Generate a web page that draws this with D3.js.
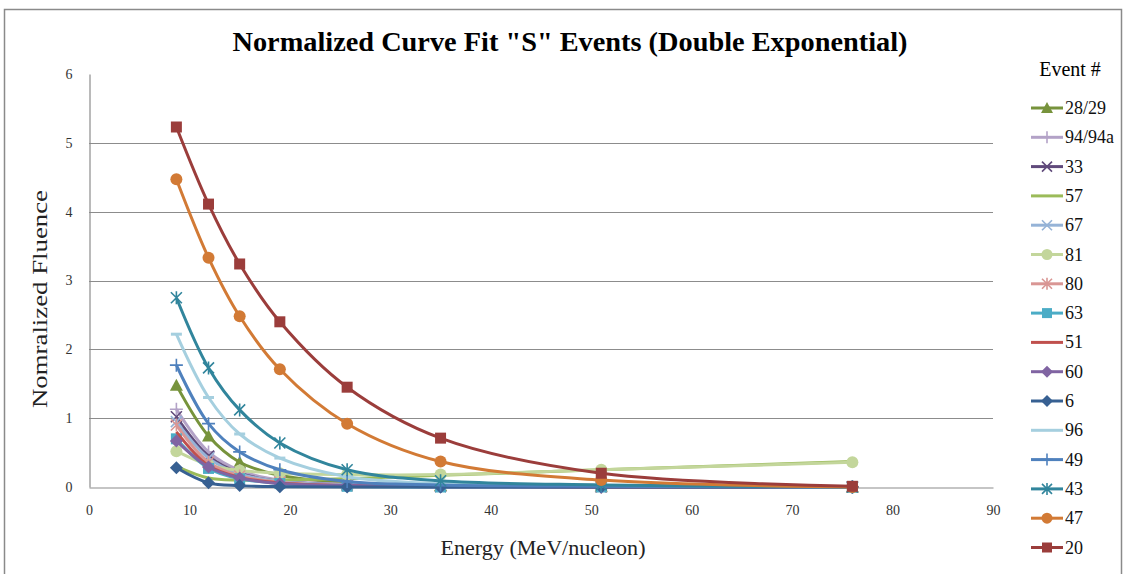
<!DOCTYPE html>
<html>
<head>
<meta charset="utf-8">
<style>
  body { margin: 0; background: #fff; }
  svg text { font-family: "Liberation Serif", "Times New Roman", serif; }
</style>
<title>Normalized Curve Fit</title>
</head>
<body>
<script src="https://cdn.jsdelivr.net/npm/d3@7"></script>
<script>
// energies (MeV/nucleon) shared by every event
var energies = [8.7, 11.9, 15, 19, 25.7, 35, 51, 76];

var events = ["28/29", "94/94a", "33", "57", "67", "81", "80", "63",
              "51", "60", "6", "96", "49", "43", "47", "20"];

var fluence = {
  "28/29":  [1.48, 0.74, 0.36, 0.17, 0.06, 0.02, 0.01, 0.0],
  "94/94a": [1.13, 0.51, 0.24, 0.10, 0.04, 0.01, 0.0, 0.0],
  "33":     [1.02, 0.45, 0.20, 0.08, 0.03, 0.01, 0.0, 0.0],
  "57":     [0.30, 0.13, 0.10, 0.10, 0.12, 0.17, 0.25, 0.37],
  "67":     [0.95, 0.42, 0.19, 0.08, 0.03, 0.01, 0.0, 0.0],
  "81":     [0.52, 0.32, 0.24, 0.20, 0.18, 0.18, 0.25, 0.36],
  "80":     [0.90, 0.36, 0.16, 0.07, 0.02, 0.01, 0.0, 0.0],
  "63":     [0.70, 0.27, 0.12, 0.05, 0.01, 0.0, 0.0, 0.0],
  "51":     [0.80, 0.31, 0.14, 0.06, 0.02, 0.01, 0.0, 0.0],
  "60":     [0.67, 0.29, 0.13, 0.05, 0.02, 0.0, 0.0, 0.0],
  "6":      [0.28, 0.06, 0.02, 0.005, 0.0, 0.0, 0.0, 0.0],
  "96":     [2.22, 1.30, 0.77, 0.42, 0.15, 0.05, 0.02, 0.0],
  "49":     [1.77, 0.92, 0.51, 0.25, 0.08, 0.03, 0.01, 0.0],
  "43":     [2.75, 1.73, 1.12, 0.64, 0.25, 0.09, 0.03, 0.0],
  "47":     [4.47, 3.33, 2.48, 1.71, 0.92, 0.37, 0.10, 0.0],
  "20":     [5.23, 4.11, 3.24, 2.40, 1.45, 0.71, 0.20, 0.01]
};

var colors = {
  "28/29": "#77933c", "94/94a": "#b3a2c7", "33": "#604a7b", "57": "#9bbb59",
  "67": "#95b3d7", "81": "#c3d69b", "80": "#d99694", "63": "#4bacc6",
  "51": "#c0504d", "60": "#8064a2", "6": "#376092", "96": "#a5cfdf",
  "49": "#4f81bd", "43": "#31859c", "47": "#d27a35", "20": "#9b3d3b"
};

var markers = {
  "28/29": "triangle", "94/94a": "plus", "33": "x", "57": "none",
  "67": "x", "81": "circle", "80": "star", "63": "square",
  "51": "none", "60": "diamond", "6": "diamond", "96": "dash",
  "49": "plus", "43": "star", "47": "circle", "20": "square"
};

var yTicks = [0, 1, 2, 3, 4, 5, 6];
var xTicks = [0, 10, 20, 30, 40, 50, 60, 70, 80, 90];

var W = 1126, H = 574;
var plot = {left: 89, right: 993, top: 74, bottom: 487};

var svg = d3.select("body").append("svg")
  .attr("width", W).attr("height", H);

// chart frame
svg.append("rect")
  .attr("x", 4.5).attr("y", 9.5)
  .attr("width", 1117).attr("height", 600)
  .attr("fill", "none").attr("stroke", "#8a8a8a").attr("stroke-width", 1.5);

var x = d3.scaleLinear().domain([0, 90]).range([plot.left, plot.right]);
var y = d3.scaleLinear().domain([0, 6]).range([plot.bottom, plot.top]);

// gridlines
svg.append("g").selectAll("line")
  .data(yTicks.filter(function(d){ return d > 0 && d < 6; }))
  .enter().append("line")
  .attr("x1", plot.left).attr("x2", plot.right)
  .attr("y1", function(d){ return Math.round(y(d)) + 0.5; })
  .attr("y2", function(d){ return Math.round(y(d)) + 0.5; })
  .attr("stroke", "#8c8c8c").attr("stroke-width", 1.2);

var xAxis = d3.axisBottom(x).tickValues(xTicks).tickFormat(d3.format("d"))
  .tickSize(0).tickPadding(18);
var yAxis = d3.axisLeft(y).tickValues(yTicks).tickFormat(d3.format("d"))
  .tickSize(0).tickPadding(17);

var gx = svg.append("g")
  .attr("transform", "translate(0," + (plot.bottom + 0.5) + ")")
  .call(xAxis);
var gy = svg.append("g")
  .attr("transform", "translate(" + (plot.left + 0.5) + ",0)")
  .call(yAxis);
[gx, gy].forEach(function(g) {
  g.attr("font-family", "Liberation Serif, serif").attr("font-size", 14);
  g.selectAll(".tick text").attr("fill", "#333");
  g.select(".domain").attr("stroke", "#8c8c8c").attr("stroke-width", 1.2);
});

function markerPath(type, s) {
  var h = s / 2;
  switch (type) {
    case "triangle": return "M0," + (-h - 1) + "L" + (h + 1) + "," + (h) + "L" + (-h - 1) + "," + h + "Z";
    case "square": return "M" + (-h) + "," + (-h) + "h" + s + "v" + s + "h" + (-s) + "Z";
    case "diamond": return "M0," + (-h - 1) + "L" + (h + 1) + ",0L0," + (h + 1) + "L" + (-h - 1) + ",0Z";
    case "plus": return "M" + (-h - 1) + ",0H" + (h + 1) + "M0," + (-h - 1) + "V" + (h + 1);
    case "x": return "M" + (-h) + "," + (-h) + "L" + h + "," + h + "M" + (-h) + "," + h + "L" + h + "," + (-h);
    case "star": return "M" + (-h) + "," + (-h) + "L" + h + "," + h + "M" + (-h) + "," + h + "L" + h + "," + (-h) + "M0," + (-h - 1) + "V" + (h + 1);
    case "dash": return "M" + (-h) + ",-1.5h" + s + "v3h" + (-s) + "Z";
  }
  return "";
}
function isFilled(type) {
  return type === "triangle" || type === "square" || type === "diamond" || type === "dash";
}

function drawMarker(g, type, color, size) {
  if (type === "none") return;
  if (type === "circle") {
    g.append("circle").attr("r", size / 2 + 0.5).attr("fill", color);
  } else if (isFilled(type)) {
    g.append("path").attr("d", markerPath(type, size)).attr("fill", color);
  } else {
    g.append("path").attr("d", markerPath(type, size))
      .attr("fill", "none").attr("stroke", color).attr("stroke-width", 1.6);
  }
}

var line = d3.line()
  .x(function(d){ return x(d[0]); })
  .y(function(d){ return y(d[1]); })
  .curve(d3.curveCatmullRom.alpha(0.5));

var series = svg.append("g");
events.forEach(function(ev) {
  var pts = energies.map(function(e, i){ return [e, fluence[ev][i]]; });
  var g = series.append("g");
  g.append("path").datum(pts)
    .attr("d", line)
    .attr("fill", "none")
    .attr("stroke", colors[ev])
    .attr("stroke-width", 3)
    .attr("stroke-linejoin", "round");
  pts.forEach(function(p) {
    var m = g.append("g").attr("transform", "translate(" + x(p[0]) + "," + y(p[1]) + ")");
    drawMarker(m, markers[ev], colors[ev], 11);
  });
});

// title and axis titles
svg.append("text")
  .attr("x", 570).attr("y", 51)
  .attr("text-anchor", "middle")
  .attr("font-size", 28).attr("font-weight", "bold")
  .attr("textLength", 675).attr("lengthAdjust", "spacingAndGlyphs")
  .text('Normalized Curve Fit "S" Events (Double Exponential)');

svg.append("text")
  .attr("transform", "translate(47,299) rotate(-90)")
  .attr("text-anchor", "middle")
  .attr("font-size", 22).attr("fill", "#222")
  .attr("textLength", 218).attr("lengthAdjust", "spacingAndGlyphs")
  .text("Nomralized Fluence");

svg.append("text")
  .attr("x", 543).attr("y", 555)
  .attr("text-anchor", "middle")
  .attr("font-size", 22).attr("fill", "#222")
  .attr("textLength", 205).attr("lengthAdjust", "spacingAndGlyphs")
  .text("Energy (MeV/nucleon)");

// legend
var leg = svg.append("g");
leg.append("text")
  .attr("x", 1070).attr("y", 76)
  .attr("text-anchor", "middle")
  .attr("font-size", 20)
  .text("Event #");

events.forEach(function(ev, i) {
  var ly = 108 + i * 29.3;
  var g = leg.append("g").attr("transform", "translate(0," + ly + ")");
  g.append("line").attr("x1", 1031).attr("x2", 1063)
    .attr("stroke", colors[ev]).attr("stroke-width", 3);
  var m = g.append("g").attr("transform", "translate(1047,0)");
  drawMarker(m, markers[ev] === "dash" ? "none" : markers[ev], colors[ev], 10);
  g.append("text").attr("x", 1065).attr("y", 6)
    .attr("font-size", 18).attr("fill", "#111")
    .text(ev);
});
</script>
</body>
</html>
